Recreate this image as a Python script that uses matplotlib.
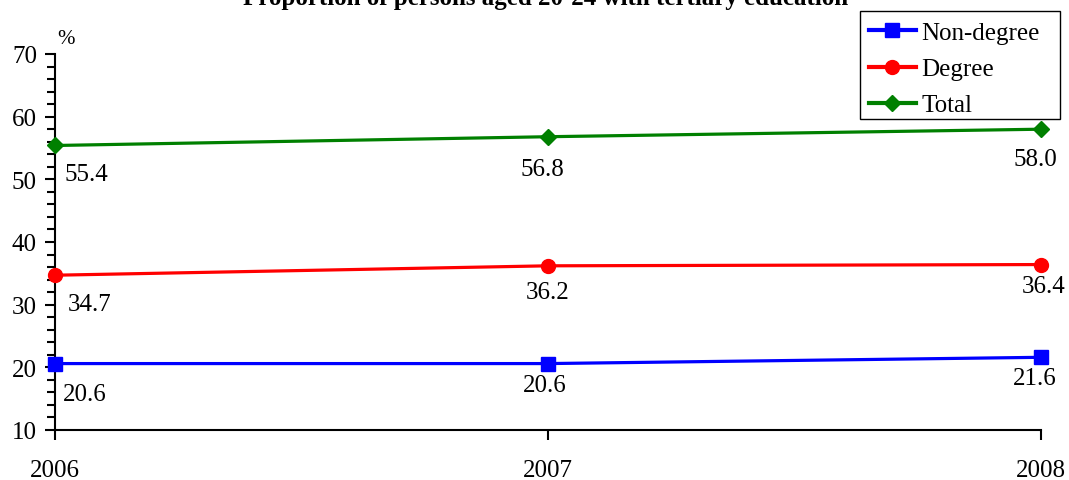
import matplotlib
matplotlib.use("Agg")
import matplotlib.pyplot as plt
from matplotlib.ticker import MultipleLocator
from matplotlib.patches import Rectangle

years = [2006, 2007, 2008]
non_degree = [20.6, 20.6, 21.6]
degree = [34.7, 36.2, 36.4]
total = [55.4, 56.8, 58.0]
series_names = ["Non-degree", "Degree", "Total"]
title = "Proportion of persons aged 20-24 with tertiary education"

plt.rcParams['font.family'] = ['Liberation Serif', 'DejaVu Serif']
FS = 18
W, H = 1069, 481

fig = plt.figure(figsize=(W / 100, H / 100), dpi=100)
ax = fig.add_axes([55/W, 1-431/H, (1041-55)/W, (431-55)/H])

l1, = ax.plot(years, non_degree, color='#0000ff', lw=2.3, marker='s', ms=9.5, clip_on=False, zorder=5)
l2, = ax.plot(years, degree, color='#ff0000', lw=2.3, marker='o', ms=10, clip_on=False, zorder=5)
l3, = ax.plot(years, total, color='#008000', lw=2.3, marker='D', ms=8.5, clip_on=False, zorder=5)

# label offsets in pixels (dx, dy, horizontal alignment), per series and point
label_style = {
    0: [(8, -30, 'left'), (-3, -21, 'center'), (-6, -21, 'center')],
    1: [(13, -29, 'left'), (0, -26, 'center'), (3, -21, 'center')],
    2: [(10, -29, 'left'), (-6, -32, 'center'), (-6, -30, 'center')],
}
for s, vals in enumerate((non_degree, degree, total)):
    for i, (x, v) in enumerate(zip(years, vals)):
        dx, dy, ha = label_style[s][i]
        ax.annotate(f"{v:.1f}", (x, v), xytext=(dx, dy), textcoords='offset pixels',
                    ha=ha, va='center', fontsize=FS, annotation_clip=False)

ax.set_xlim(2006, 2008)
ax.set_ylim(10, 70)
ax.set_xticks(years)
ax.set_xticklabels([str(y) for y in years])
ax.yaxis.set_major_locator(MultipleLocator(10))
ax.yaxis.set_minor_locator(MultipleLocator(2))
ax.tick_params(axis='both', which='major', labelsize=FS, direction='out', length=7, width=1.5)
ax.tick_params(axis='y', which='minor', direction='out', length=6, width=1.5)
ax.tick_params(axis='x', which='major', pad=14)
ax.tick_params(axis='y', which='major', pad=6)
ax.spines['top'].set_visible(False)
ax.spines['right'].set_visible(False)
ax.spines['left'].set_linewidth(1.5)
ax.spines['bottom'].set_linewidth(1.5)

fig.text(57/W, 1-40/H, "%", fontsize=15, ha='left', va='center')
fig.text(546/W, 1-5/H, title, fontsize=18, fontweight='bold', ha='center', va='baseline')

# legend frame drawn as a separate box
frame = Rectangle((860/W, 1-120/H), 200/W, 108/H, transform=fig.transFigure,
                  facecolor='white', edgecolor='black', lw=1, zorder=8)
fig.add_artist(frame)
leg = fig.legend([l1, l2, l3], series_names, loc='upper left',
                 bbox_to_anchor=(861/W, 1-15/H), fontsize=FS, frameon=False,
                 handlelength=1.9, handletextpad=0.2,
                 borderpad=0.3, labelspacing=0.55, borderaxespad=0)
leg.set_zorder(9)
for h in leg.get_lines():
    h.set_linewidth(3)

fig.savefig("out.png", dpi=100)
